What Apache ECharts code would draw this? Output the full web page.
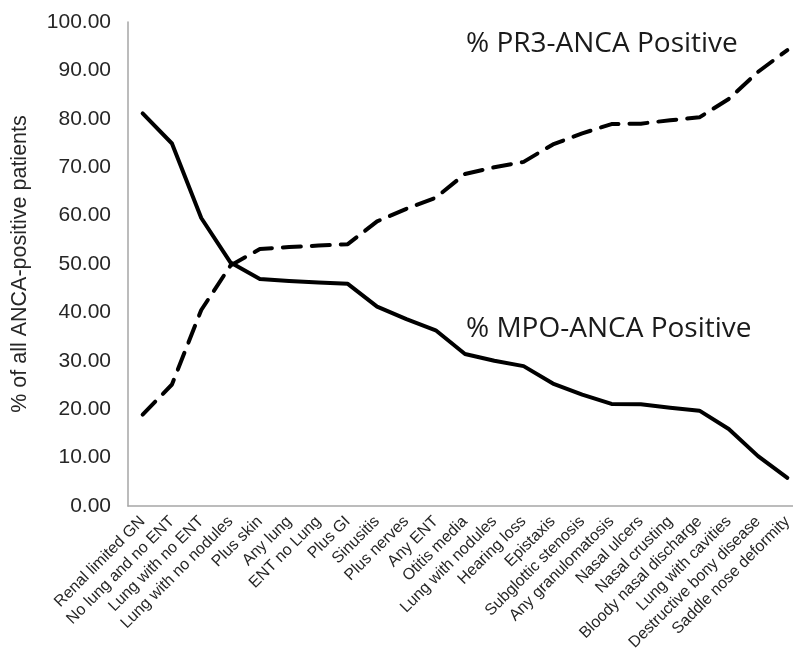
<!DOCTYPE html>
<html>
<head>
<meta charset="utf-8">
<script src="https://cdn.jsdelivr.net/npm/echarts@6/dist/echarts.min.js"></script>
<style>
html,body{margin:0;padding:0;background:#fff;overflow:hidden;width:793px;height:660px;}
#chart{width:802px;height:660px;}
</style>
</head>
<body>
<div id="chart"></div>
<script>
const categories = ["Renal limited GN","No lung and no ENT","Lung with no ENT","Lung with no nodules","Plus skin","Any lung","ENT no Lung","Plus GI","Sinusitis","Plus nerves","Any ENT","Otitis media","Lung with nodules","Hearing loss","Epistaxis","Subglottic stenosis","Any granulomatosis","Nasal ulcers","Nasal crusting","Bloody nasal discharge","Lung with cavities","Destructive bony disease","Saddle nose deformity"];
const mpoValues = [81.1,74.9,59.5,50.3,46.9,46.5,46.2,45.9,41.2,38.6,36.3,31.4,30.0,28.9,25.3,23.0,21.1,21.0,20.3,19.7,15.9,10.3,5.8];
const pr3Values = [18.9,25.1,40.5,49.7,53.1,53.5,53.8,54.1,58.8,61.4,63.7,68.6,70.0,71.1,74.7,77.0,78.9,79.0,79.7,80.3,84.1,89.7,94.2];
const yTicks = {min:0, max:100, interval:10};
const yTitle = "% of all ANCA-positive patients";
const pr3Label = "% PR3-ANCA Positive";
const mpoLabel = "% MPO-ANCA Positive";

const chart = echarts.init(document.getElementById('chart'), null, {renderer:'canvas'});
const axisFont = '"Liberation Sans", Arial, sans-serif';
chart.setOption({
  animation:false,
  backgroundColor:'#fff',
  grid:{left:128, top:22, right:0, bottom:154, containLabel:false},
  xAxis:{
    type:'category', data:categories, boundaryGap:true,
    axisLine:{lineStyle:{color:'#a6a6a6', width:1.5}},
    axisTick:{show:false},
    axisLabel:{rotate:45, interval:0, color:'#262626', fontSize:16, fontFamily:axisFont, margin:13}
  },
  yAxis:{
    type:'value', min:yTicks.min, max:yTicks.max, interval:yTicks.interval,
    name:yTitle, nameLocation:'middle', nameGap:97,
    nameTextStyle:{color:'#262626', fontSize:21.5, fontFamily:axisFont},
    axisLine:{show:true, lineStyle:{color:'#a6a6a6', width:1.5}},
    axisTick:{show:false},
    splitLine:{show:false},
    axisLabel:{color:'#262626', fontSize:21, fontFamily:axisFont, margin:17,
      formatter:v=>v.toFixed(2)}
  },
  series:[
    {name:'MPO', type:'line', data:mpoValues, symbol:'none',
     lineStyle:{color:'#000', width:4, cap:'round', join:'round'}},
    {name:'PR3', type:'line', data:pr3Values, symbol:'none',
     lineStyle:{color:'#000', width:4, type:[18,11], cap:'round', join:'round'}}
  ],
  graphic:[
    {type:'text', left:466, top:30, style:{text:pr3Label, fill:'#1a1a1a', font:'28px "Open Sans", Carlito, sans-serif'}},
    {type:'text', left:466, top:315, style:{text:mpoLabel, fill:'#1a1a1a', font:'28px "Open Sans", Carlito, sans-serif'}}
  ]
});
</script>
</body>
</html>
